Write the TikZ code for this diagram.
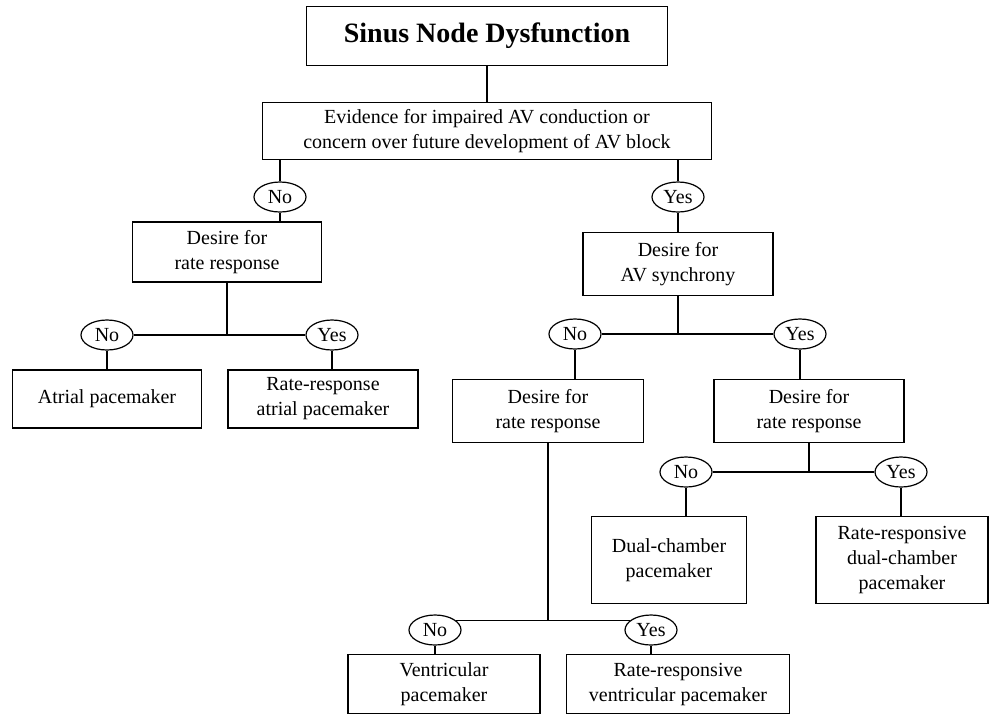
\documentclass[tikz,border=0pt]{standalone}
\usepackage{fontspec}
\setmainfont{Liberation Serif}
\usetikzlibrary{shapes.geometric}
\begin{document}
\begin{tikzpicture}[x=1pt,y=-1pt,line width=1.2pt,
        box/.style={draw,align=center,inner sep=2pt,font=\fontsize{20}{25}\selectfont},
        answer/.style={draw,ellipse,minimum width=52pt,minimum height=30pt,inner sep=0pt,font=\fontsize{20}{24}\selectfont}]
    \useasboundingbox (0,0) rectangle (990,716);
    % questions
    \node[box,minimum width=361pt,minimum height=59pt,font=\fontsize{28}{32}\selectfont\bfseries] (title) at (487,36) {Sinus Node Dysfunction};
    \node[box,minimum width=449pt,minimum height=57pt] (evidence) at (487,131) {Evidence for impaired AV conduction or\\concern over future development of AV block};
    \node[box,minimum width=189pt,minimum height=60pt] (rateA) at (227,252) {Desire for\\rate response};
    \node[box,minimum width=190pt,minimum height=63pt] (sync) at (678,264) {Desire for\\AV synchrony};
    \node[box,minimum width=191pt,minimum height=63pt] (rateV) at (548,411) {Desire for\\rate response};
    \node[box,minimum width=190pt,minimum height=63pt] (rateD) at (809,411) {Desire for\\rate response};
    % pacemakers
    \node[box,minimum width=189pt,minimum height=58pt] (atrial) at (107,399) {Atrial pacemaker};
    \node[box,minimum width=190pt,minimum height=58pt] (atrialR) at (323,399) {Rate-response\\atrial pacemaker};
    \node[box,minimum width=155pt,minimum height=87pt] (dual) at (669,560) {Dual-chamber\\pacemaker};
    \node[box,minimum width=172pt,minimum height=87pt] (dualR) at (902,560) {Rate-responsive\\dual-chamber\\pacemaker};
    \node[box,minimum width=192pt,minimum height=59pt] (vent) at (444,684) {Ventricular\\pacemaker};
    \node[box,minimum width=223pt,minimum height=59pt] (ventR) at (678,684) {Rate-responsive\\ventricular pacemaker};
    % answers
    \node[answer] (noA) at (280,197) {No};
    \node[answer] (yesA) at (678,197) {Yes};
    \node[answer] (noB) at (107,335) {No};
    \node[answer] (yesB) at (332,335) {Yes};
    \node[answer] (noC) at (575,334) {No};
    \node[answer] (yesC) at (800,334) {Yes};
    \node[answer] (noD) at (686,472) {No};
    \node[answer] (yesD) at (901,472) {Yes};
    \node[answer] (noE) at (435,630) {No};
    \node[answer] (yesE) at (651,630) {Yes};
    % lines
    \draw (title) -- (evidence);
    \draw (noA.north |- evidence.south) -- (noA) -- (noA.south |- rateA.north);
    \draw (yesA.north |- evidence.south) -- (yesA) -- (sync);
    \draw (rateA.south) -- (rateA.south |- noB);
    \draw (noB) -- (yesB);
    \draw (noB) -- (noB |- atrial.north);
    \draw (yesB) -- (yesB |- atrialR.north);
    \draw (sync.south) -- (sync.south |- noC);
    \draw (noC) -- (yesC);
    \draw (noC) -- (noC |- rateV.north);
    \draw (yesC) -- (yesC |- rateD.north);
    \draw (rateD.south) -- (rateD.south |- noD);
    \draw (noD) -- (yesD);
    \draw (noD) -- (noD |- dual.north);
    \draw (yesD) -- (yesD |- dualR.north);
    \draw (rateV.south) -- (rateV.south |- noE.25);
    \draw (noE.25) -- (yesE.155);
    \draw (noE) -- (noE |- vent.north);
    \draw (yesE) -- (yesE |- ventR.north);
\end{tikzpicture}
\end{document}
